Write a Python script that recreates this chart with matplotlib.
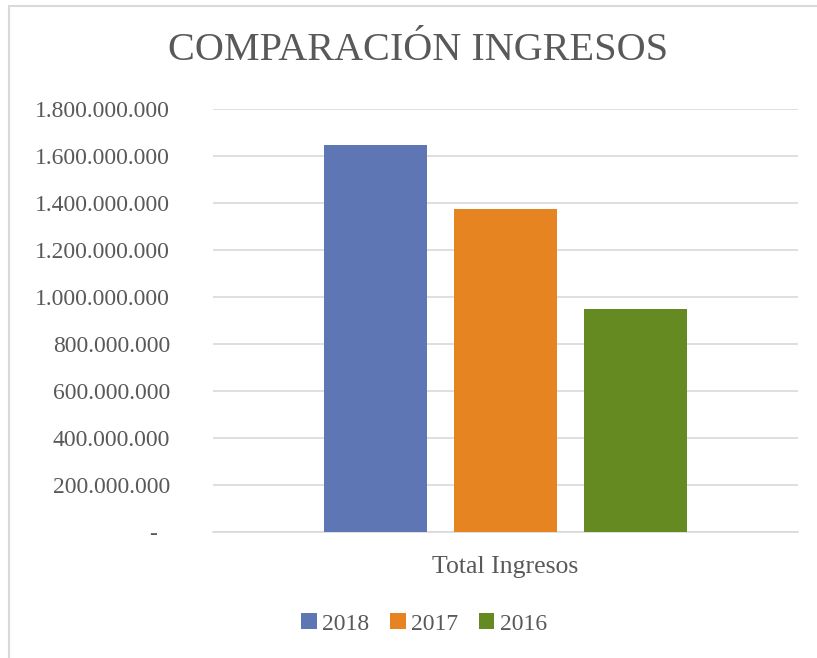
# Comparacion de ingresos por año

import numpy as np
import matplotlib.pyplot as plt
from matplotlib.patches import Rectangle

# Datos
categoria = ['Total Ingresos']
anios = ['2018', '2017', '2016']
ingresos = [1648000000, 1376000000, 948000000]
colores = ['#5F76B4', '#E58421', '#648A21']

plt.rc('font', family='Liberation Serif', size=14)
gris = '#595959'

fig = plt.figure(figsize=(8.17, 6.58), dpi=100)
W, H = 817, 658

# Marco del grafico (sigue fuera de la imagen a derecha y abajo)
fig.patches.append(Rectangle((9 / W, -0.1), 1.1, 1.1 - 6 / H, transform=fig.transFigure,
                             fill=False, edgecolor='#D9D9D9', linewidth=1.5))

ax = fig.add_axes([213 / W, 126 / H, 585 / W, 423 / H])

ancho = 0.176
desp = 0.222
for i, (a, v, c) in enumerate(zip(anios, ingresos, colores)):
    ax.bar(0 + (i - 1) * desp, v, width=ancho, color=c, label=a, zorder=3)

ax.set_xlim(-0.5, 0.5)
ax.set_ylim(0, 1800000000)
ax.set_yticks(np.arange(0, 1800000001, 200000000))

def formato(v, pos):
    if v == 0:
        return '-  '
    return '{:,.0f}'.format(v).replace(',', '.')

ax.yaxis.set_major_formatter(plt.FuncFormatter(formato))
ax.grid(axis='y', color='#D9D9D9', linewidth=1.2, zorder=0)
for s in ['top', 'right', 'left']:
    ax.spines[s].set_visible(False)
ax.spines['bottom'].set_color('#D9D9D9')
ax.spines['bottom'].set_linewidth(1.2)
ax.tick_params(axis='y', length=0, pad=31, labelcolor=gris, labelsize=17)
ax.set_xticks([0])
ax.set_xticklabels(categoria)
ax.tick_params(axis='x', length=0, pad=17, labelcolor=gris, labelsize=18.5)

fig.text(418 / W, 1 - 51 / H, 'COMPARACIÓN INGRESOS', ha='center', va='center',
         fontsize=29, color=gris)

fig.legend(loc='center', bbox_to_anchor=(424 / W, 1 - 624 / H), ncol=3, frameon=False,
           fontsize=17, labelcolor=gris, handlelength=0.65, handleheight=0.65,
           handletextpad=0.22, columnspacing=0.9)

plt.savefig('out.png', dpi=100)
